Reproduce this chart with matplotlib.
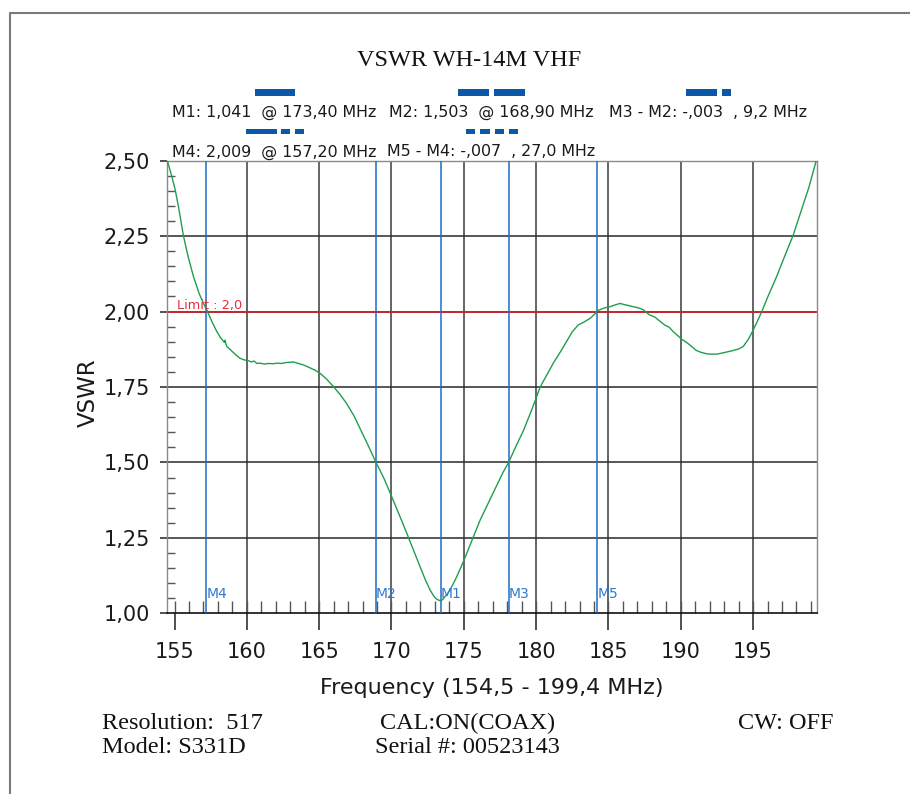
import matplotlib
matplotlib.use("Agg")
import matplotlib.pyplot as plt
from matplotlib.ticker import MultipleLocator
from matplotlib.patches import Rectangle
from matplotlib.lines import Line2D

# ---------------- data ----------------
freq_mhz = [154.52, 154.8, 155.05, 155.3, 155.62, 155.95, 156.31, 156.7, 157.0, 157.2,
            157.6, 157.93, 158.2, 158.45, 158.5, 158.55, 158.62, 158.9, 159.2, 159.54,
            159.8, 160.11, 160.3, 160.5, 160.7, 160.92, 161.2, 161.5, 161.8, 162.08,
            162.4, 162.7, 163.0, 163.22, 163.5, 163.92, 164.3, 164.7, 165.07, 165.5,
            165.99, 166.45, 166.9, 167.4, 167.9, 168.4, 168.9, 169.5, 170.02, 170.55,
            171.06, 171.5, 171.98, 172.35, 172.67, 172.95, 173.15, 173.4, 173.55, 173.75,
            174.05, 174.5, 174.97, 175.55, 176.13, 176.7, 177.28, 177.7, 178.1, 178.6,
            179.12, 179.7, 180.28, 180.74, 181.2, 181.7, 182.12, 182.5, 182.92, 183.3,
            183.75, 184.1, 184.2, 184.5, 184.8, 185.11, 185.4, 185.8, 186.1, 186.4,
            186.72, 187.1, 187.41, 187.8, 188.2, 188.56, 188.9, 189.2, 189.49, 189.8,
            190.07, 190.4, 190.76, 191.05, 191.33, 191.7, 192.02, 192.5, 193.0, 193.63,
            194.0, 194.32, 194.7, 195.01, 195.3, 195.6, 196.1, 196.63, 197.2, 197.78,
            198.3, 198.85, 199.35]
vswr = [2.497, 2.45, 2.403, 2.34, 2.25, 2.18, 2.116, 2.06, 2.027, 2.009,
        1.965, 1.933, 1.912, 1.898, 1.905, 1.893, 1.884, 1.872, 1.858, 1.845,
        1.840, 1.837, 1.833, 1.836, 1.828, 1.829, 1.826, 1.828, 1.827, 1.829,
        1.828, 1.831, 1.832, 1.833, 1.829, 1.823, 1.815, 1.806, 1.795, 1.777,
        1.751, 1.725, 1.695, 1.655, 1.605, 1.555, 1.503, 1.445, 1.386, 1.325,
        1.265, 1.212, 1.154, 1.11, 1.077, 1.055, 1.046, 1.041, 1.046, 1.058,
        1.077, 1.12, 1.171, 1.24, 1.309, 1.366, 1.424, 1.466, 1.500, 1.553,
        1.605, 1.675, 1.75, 1.79, 1.83, 1.868, 1.902, 1.933, 1.956, 1.965,
        1.978, 1.994, 2.002, 2.008, 2.013, 2.016, 2.021, 2.027, 2.023, 2.02,
        2.016, 2.012, 2.006, 1.99, 1.982, 1.968, 1.955, 1.948, 1.933, 1.92,
        1.908, 1.898, 1.884, 1.872, 1.866, 1.861, 1.859, 1.859, 1.864, 1.871,
        1.876, 1.884, 1.91, 1.939, 1.968, 2.0, 2.058, 2.116, 2.185, 2.254,
        2.33, 2.41, 2.497]

marker_names = ["M1", "M2", "M3", "M4", "M5"]
marker_freqs = [173.4, 168.9, 178.1, 157.2, 184.2]

limit_value = 2.0
limit_label = "Limit : 2,0"

x_range = (154.5, 199.4)
y_range = (1.0, 2.5)
x_ticks = [155, 160, 165, 170, 175, 180, 185, 190, 195]
x_tick_labels = ["155", "160", "165", "170", "175", "180", "185", "190", "195"]
x_grid = [160, 165, 170, 175, 180, 185, 190, 195]
y_ticks = [1.00, 1.25, 1.50, 1.75, 2.00, 2.25, 2.50]
y_tick_labels = ["1,00", "1,25", "1,50", "1,75", "2,00", "2,25", "2,50"]
y_grid = [1.25, 1.50, 1.75, 2.00, 2.25]

title_text = "VSWR WH-14M VHF"
x_label = "Frequency (154,5 - 199,4 MHz)"
y_label = "VSWR"
header_row1 = ["M1: 1,041  @ 173,40 MHz", "M2: 1,503  @ 168,90 MHz", "M3 - M2: -,003  , 9,2 MHz"]
header_row2 = ["M4: 2,009  @ 157,20 MHz", "M5 - M4: -,007  , 27,0 MHz"]
footer_left = ["Resolution:  517", "Model: S331D"]
footer_mid = ["CAL:ON(COAX)", "Serial #: 00523143"]
footer_right = ["CW: OFF"]

# ---------------- layout helpers (pixels -> figure fraction) ----------------
W, H = 910, 794
def fx(px):
    return px / W
def fy(py):
    return 1 - py / H

SANS = ["DejaVu Sans"]
SERIF = ["Liberation Serif", "DejaVu Serif"]

fig = plt.figure(figsize=(9.1, 7.94), dpi=100)
fig.patch.set_facecolor("white")

ax_l, ax_r, ax_t, ax_b = 167.3, 816.7, 160.7, 613.3
ax = fig.add_axes([fx(ax_l), fy(ax_b), (ax_r - ax_l) / W, (ax_b - ax_t) / H])
ax.set_xlim(*x_range)
ax.set_ylim(*y_range)

# grid lines
for g in x_grid:
    ax.axvline(g, color="#3a3a3a", lw=1.1, zorder=1)
for g in y_grid:
    ax.axhline(g, color="#2a2a2a", lw=1.1, zorder=1)

# limit line
ax.axhline(limit_value, color="#d8202c", lw=1.2, zorder=2)
ax.text(155.17, limit_value + 0.007, limit_label, color="#e3303c", fontsize=9.3,
        family=SANS, ha="left", va="baseline", zorder=5)

# marker lines
for name, f in zip(marker_names, marker_freqs):
    ax.axvline(f, color="#1f6dc2", lw=1.1, zorder=3)
    ax.text(f + 0.03, 1.051, name, color="#2f7ad0", fontsize=10, family=SANS,
            ha="left", va="baseline", zorder=5)

# trace
ax.plot(freq_mhz, vswr, color="#1f9e4e", lw=1.0, zorder=4)

# spines
for side in ("left", "top", "right"):
    ax.spines[side].set_color("#8a8a8a")
    ax.spines[side].set_linewidth(1.0)
ax.spines["bottom"].set_color("#111111")
ax.spines["bottom"].set_linewidth(1.2)

# ticks
ax.set_xticks(x_ticks, x_tick_labels)
ax.xaxis.set_minor_locator(MultipleLocator(1))
ax.xaxis.remove_overlapping_locs = False
ax.set_yticks(y_ticks, y_tick_labels)
ax.yaxis.set_minor_locator(MultipleLocator(0.05))

ax.tick_params(axis="x", which="major", direction="out", length=12.2, width=1.1,
               color="#222222", pad=8.3, labelsize=15, labelcolor="#1a1a1a")
ax.tick_params(axis="x", which="minor", direction="in", length=9.0, width=1.0,
               color="#555555")
ax.tick_params(axis="y", which="major", direction="out", length=5.2, width=1.1,
               color="#222222", pad=7.0, labelsize=15, labelcolor="#1a1a1a")
ax.tick_params(axis="y", which="minor", direction="in", length=5.5, width=1.0,
               color="#555555")
for lab in ax.get_xticklabels() + ax.get_yticklabels():
    lab.set_family(SANS)

ax.set_xlabel(x_label, fontsize=16, family=SANS, color="#1a1a1a")
ax.xaxis.set_label_coords(0.5, (ax_b - 694) / (ax_b - ax_t))
ax.xaxis.label.set_va("baseline")
ax.set_ylabel(y_label, fontsize=16.5, family=SANS, color="#1a1a1a")
ax.yaxis.set_label_coords((88 - ax_l) / (ax_r - ax_l), (ax_b - 393) / (ax_b - ax_t))
ax.yaxis.label.set_va("center")

# title
fig.text(fx(469), fy(66), title_text, fontsize=17.5, family=SERIF, ha="center",
         va="baseline", color="#111111")

# header marker readouts
row1_x = [172.0, 389.0, 609.0]
row2_x = [172.0, 387.0]
for txt, x in zip(header_row1, row1_x):
    fig.text(fx(x), fy(116.8), txt, fontsize=11.4, family=SANS, ha="left",
             va="baseline", color="#1a1a1a")
for txt, x in zip(header_row2, row2_x):
    fig.text(fx(x), fy(156.3), txt, fontsize=11.4, family=SANS, ha="left",
             va="baseline", color="#1a1a1a")

# blue indicator blocks above readouts (x0, x1) in pixels
blocks_row1 = [(255.1, 295.1), (458.4, 489.2), (494.2, 525.0), (685.8, 717.4), (721.6, 730.9)]
blocks_row2 = [(245.8, 276.6), (280.8, 290.0), (295.1, 304.3), (466.0, 475.3),
               (480.3, 489.6), (494.7, 503.9), (509.0, 518.2)]
for (x0, x1) in blocks_row1:
    fig.patches.append(Rectangle((fx(x0), fy(95.7)), (x1 - x0) / W, 6.4 / H,
                                 transform=fig.transFigure, color="#0d58a6", lw=0))
for (x0, x1) in blocks_row2:
    fig.patches.append(Rectangle((fx(x0), fy(134.3)), (x1 - x0) / W, 5.3 / H,
                                 transform=fig.transFigure, color="#0d58a6", lw=0))

# footer
FS = 17.5
fig.text(fx(102), fy(728.8), footer_left[0], fontsize=FS, family=SERIF, ha="left", va="baseline", color="#111111")
fig.text(fx(102), fy(753.0), footer_left[1], fontsize=FS, family=SERIF, ha="left", va="baseline", color="#111111")
fig.text(fx(380), fy(728.8), footer_mid[0], fontsize=FS, family=SERIF, ha="left", va="baseline", color="#111111")
fig.text(fx(375), fy(753.0), footer_mid[1], fontsize=FS, family=SERIF, ha="left", va="baseline", color="#111111")
fig.text(fx(738), fy(728.8), footer_right[0], fontsize=FS, family=SERIF, ha="left", va="baseline", color="#111111")

# page frame
fig.add_artist(Line2D([fx(10), fx(10), fx(910)], [fy(794), fy(12.7), fy(12.7)],
                      transform=fig.transFigure, color="#7a7a7a", lw=1.5))

fig.savefig("out.png", dpi=100, facecolor="white")
